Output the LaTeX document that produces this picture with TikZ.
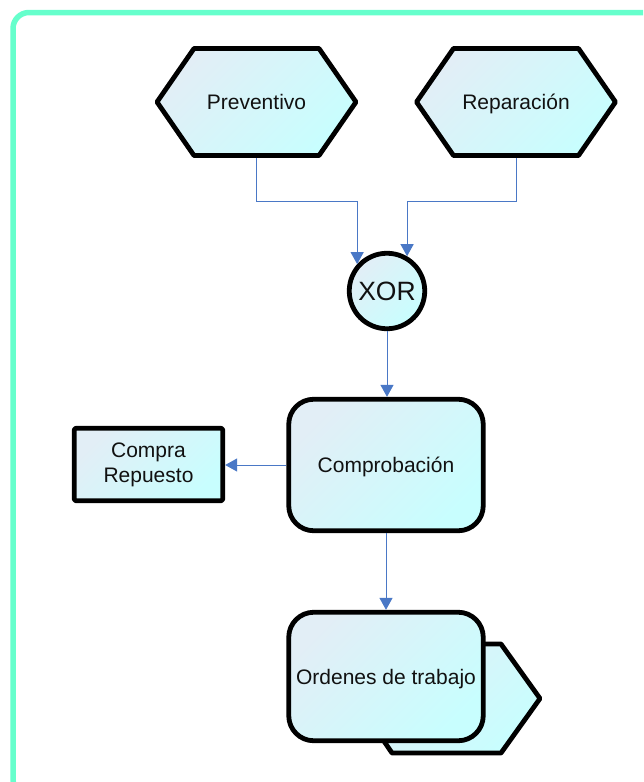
\documentclass[tikz,border=0pt]{standalone}
\usepackage{fontspec}
\setmainfont{Liberation Sans}
\usetikzlibrary{arrows.meta}

\definecolor{frameGreen}{HTML}{66FFCC}
\definecolor{fillA}{HTML}{E2EEF6}
\definecolor{fillB}{HTML}{C8FEFE}
\definecolor{connBlue}{HTML}{4A78C6}
\definecolor{inkText}{HTML}{111111}

\tikzset{
  shape fill/.style={draw=black, line width=4.8pt, line join=round,
    top color=fillA, bottom color=fillB, shading angle=45},
  label text/.style={text=inkText, font=\fontsize{21}{25}\selectfont,
    align=center, inner sep=0pt},
  one line/.style={text height=19pt, text depth=3.6pt},
  event label/.style={label text, one line, outer sep=2.4pt},
  func box/.style={shape fill, label text, one line, rectangle, rounded corners=25pt,
    minimum width=194.5pt, outer sep=2.4pt},
  gate/.style={shape fill, circle, minimum size=75.5pt, inner sep=0pt,
    outer sep=2.4pt, text=inkText, font=\fontsize{26.5}{30}\selectfont},
  info box/.style={shape fill, label text, rectangle, rounded corners=2pt,
    minimum width=148.5pt, minimum height=72.5pt, outer sep=2.4pt},
  conn/.style={draw=connBlue, line width=1pt,
    -{Triangle[width=13pt,length=12pt]}},
}

% event hexagon: name, centre x, centre y, half width, half height, text
\newcommand\eventhex[6]{%
  \path[shape fill] ({#2-#4},#3) -- ({#2-#4+37},{#3-#5}) -- ({#2+#4-37},{#3-#5})
    -- ({#2+#4},#3) -- ({#2+#4-37},{#3+#5}) -- ({#2-#4+37},{#3+#5}) -- cycle;
  \node[event label, minimum width={2*#4}, minimum height={2*#5}] (#1) at (#2,#3) {#6};%
}

\begin{document}
\begin{tikzpicture}[x=1pt, y=-1pt]
  \useasboundingbox (0,0) rectangle (643,782);
  \clip (0,0) rectangle (643,782);

  % outer frame
  \draw[frameGreen, line width=5.5pt, rounded corners=16pt]
    (13,12.5) rectangle (680,795);

  % start events
  \eventhex{prev}{256.5}{102}{99.5}{53.5}{Preventivo}
  \eventhex{rep}{516}{102}{99.5}{53.5}{Reparación}

  % XOR gate
  \node[gate] (xor) at (387,291) {XOR};

  % function
  \node[func box, minimum height=131.5pt] (comp) at (386,465) {Comprobación};

  % information object
  \node[info box] (buy) at (148.5,464.5) {Compra\\Repuesto};

  % output with stacked document shape behind
  \path[shape fill] (355,698.5) -- (392,644) -- (501,644) -- (540,698.5)
    -- (501,753) -- (392,753) -- cycle;
  \node[func box, minimum height=128.5pt] (ord) at (386,676.5) {Ordenes de trabajo};

  % connectors
  \draw[conn] (prev.south) -- ++(0,44) -| (xor.138.6);
  \draw[conn] (rep.south) -- ++(0,44) -| (xor.60);
  \draw[conn] (xor.south) -- (xor.south |- comp.north);
  \draw[conn] (comp.west) -- (comp.west -| buy.east);
  \draw[conn] (comp.south) -- (ord.north);
\end{tikzpicture}
\end{document}
